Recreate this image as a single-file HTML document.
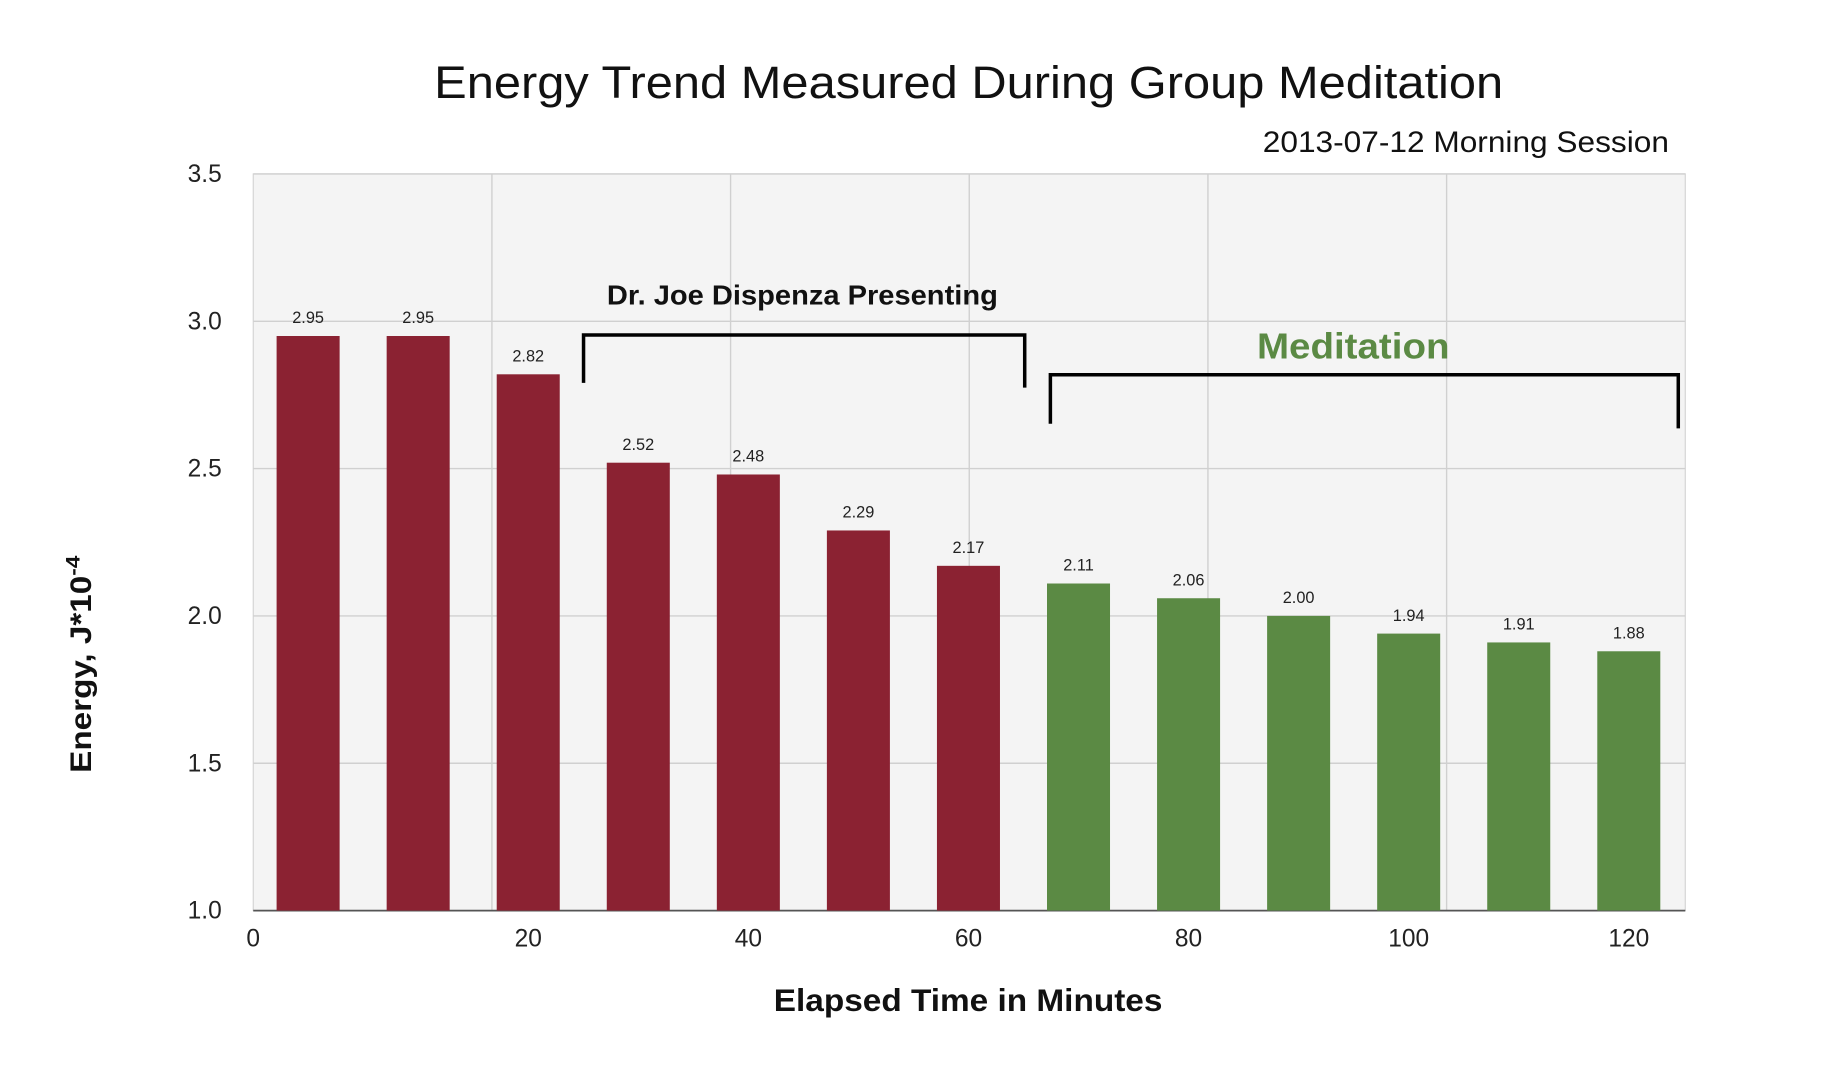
<!DOCTYPE html>
<html><head><meta charset="utf-8"><style>
html,body{margin:0;padding:0;background:#fff;width:1830px;height:1074px;overflow:hidden}
svg{display:block}
text{font-family:"Liberation Sans",sans-serif}
</style></head><body>
<svg id="chart" width="1830" height="1074" viewBox="0 0 1568 920" preserveAspectRatio="none" xmlns="http://www.w3.org/2000/svg">
<rect x="0" y="0" width="1568" height="920" fill="#fff"/>
<rect x="217" y="149" width="1227" height="631" fill="#f4f4f4" stroke="#d4d4d4"/>
<g id="grid"></g>
<g id="bars"></g>
<g id="labels"></g>
<text x="372" y="84" textLength="916" lengthAdjust="spacingAndGlyphs" font-size="39" fill="#111">Energy Trend Measured During Group Meditation</text>
<text x="1082" y="130" textLength="348" lengthAdjust="spacingAndGlyphs" font-size="25" fill="#111">2013-07-12  Morning Session</text>
<text transform="translate(78,662) rotate(-90)" textLength="186" lengthAdjust="spacingAndGlyphs" font-size="25" font-weight="bold" fill="#111">Energy, J*10<tspan dy="-10" font-size="17">-4</tspan></text>
<text x="663" y="866" textLength="333" lengthAdjust="spacingAndGlyphs" font-size="27" font-weight="bold" fill="#111">Elapsed Time in Minutes</text>
<text x="520" y="261" textLength="335" lengthAdjust="spacingAndGlyphs" font-size="24" font-weight="bold" fill="#111">Dr. Joe Dispenza Presenting</text>
<polyline points="500,328 500,287 878,287 878,332" fill="none" stroke="#000" stroke-width="3"/>
<text x="1077" y="307" textLength="165" lengthAdjust="spacingAndGlyphs" font-size="31" font-weight="bold" fill="#5b8a44">Meditation</text>
<polyline points="900,363 900,321 1438,321 1438,367" fill="none" stroke="#000" stroke-width="3"/>
</svg>
<script>
const values=[2.95,2.95,2.82,2.52,2.48,2.29,2.17,2.11,2.06,2.00,1.94,1.91,1.88];
const phases=["presenting","presenting","presenting","presenting","presenting","presenting","presenting","meditation","meditation","meditation","meditation","meditation","meditation"];
const yTicks=[1.0,1.5,2.0,2.5,3.0,3.5];
const xTickLabels=["0","20","40","60","80","100","120"];
const xTickBarIndex=[-0.5,2,4,6,8,10,12];
const NS="http://www.w3.org/2000/svg";
const L=217,R=1444,T=149,B=780,yMin=1,yMax=3.5;
function y(v){return B-(v-yMin)/(yMax-yMin)*(B-T);}
const step=94.3,first=264;
function xc(i){return i<0?L:first+i*step;}
function mk(tag,attrs,parent){const e=document.createElementNS(NS,tag);for(const k in attrs)e.setAttribute(k,attrs[k]);parent.appendChild(e);return e;}
const grid=document.getElementById('grid'),bars=document.getElementById('bars'),labels=document.getElementById('labels');
yTicks.forEach(t=>{
  const l=mk('line',{x1:L,x2:R,y1:y(t),y2:y(t),stroke:'#d0d0d0','stroke-width':1.2},grid);
  
  
  const tx=mk('text',{x:190,y:y(t)+7,'text-anchor':'end','font-size':21,fill:'#222'},labels);
  tx.textContent=t.toFixed(1);
  
  
});
for(let k=1;k<6;k++){
  const gx=L+(R-L)*k/6;
  const l=mk('line',{x1:gx,x2:gx,y1:T,y2:B,stroke:'#d0d0d0','stroke-width':1.2},grid);
  
  
}
const ax=mk('line',{x1:L,x2:R,y1:B,y2:B,stroke:'#555','stroke-width':1.5},grid);


const bw=54;
values.forEach((v,i)=>{
  const r=mk('rect',{x:xc(i)-bw/2,y:y(v),width:bw,height:B-y(v),fill:phases[i]==='presenting'?'#8b2232':'#5b8a44'},bars);
  
  
  const t=mk('text',{x:xc(i),y:y(v)-11,'text-anchor':'middle','font-size':14,fill:'#222'},labels);
  t.textContent=v.toFixed(2);
  
  
});
xTickLabels.forEach((s,i)=>{
  const t=mk('text',{x:xc(xTickBarIndex[i]),y:811,'text-anchor':'middle','font-size':21,fill:'#222'},labels);
  t.textContent=s;
  
  
});
</script>
</body></html>
